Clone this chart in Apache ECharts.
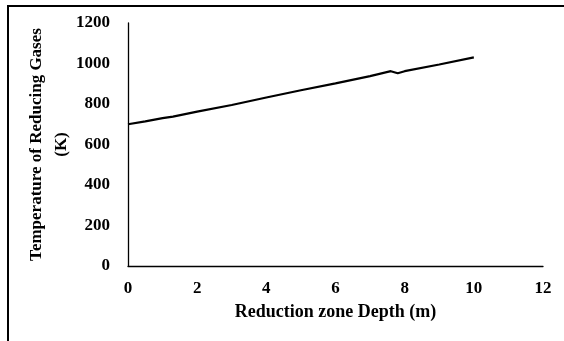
<!DOCTYPE html>
<html>
<head>
<meta charset="utf-8">
<script src="https://cdn.jsdelivr.net/npm/echarts@6/dist/echarts.min.js"></script>
<style>
  html, body { margin: 0; padding: 0; background: #fff; }
  #chart { width: 564px; height: 341px; }
</style>
</head>
<body>
<div id="chart"></div>
<script>
// depth along reduction zone (m)
var depth = [0, 0.5, 1, 1.3, 2, 3, 4, 5, 6, 7, 7.6, 7.8, 8, 9, 10];
// temperature of reducing gases (K)
var temperature = [700, 714, 730, 738, 762, 795, 832, 868, 902, 938, 962, 952, 962, 995, 1030];

var xTicks = [0, 12, 2];     // min, max, interval
var yTicks = [0, 1200, 200];

var font = '"Liberation Serif", "Times New Roman", serif';

var points = depth.map(function (d, i) { return [d, temperature[i]]; });

var chart = echarts.init(document.getElementById('chart'));
var option = {
    animation: false,
    backgroundColor: '#fff',
    grid: { left: 128, right: 21, top: 23, bottom: 75 },
    graphic: [{
        type: 'rect',
        shape: { x: 8, y: 6, width: 620, height: 400 },
        style: { fill: 'none', stroke: '#000', lineWidth: 2 },
        silent: true
    }],
    xAxis: {
        type: 'value',
        min: xTicks[0], max: xTicks[1], interval: xTicks[2],
        name: 'Reduction zone Depth (m)',
        nameLocation: 'middle',
        nameGap: 37,
        nameMoveOverlap: false,
        nameTextStyle: { fontFamily: font, fontWeight: 'bold', fontSize: 18, color: '#000' },
        axisLine: { lineStyle: { color: '#000', width: 1.3 } },
        axisTick: { show: false },
        splitLine: { show: false },
        axisLabel: { margin: 14, fontFamily: font, fontWeight: 'bold', fontSize: 17, color: '#000',
            formatter: function (v) { return String(v); } }
    },
    yAxis: {
        type: 'value',
        min: yTicks[0], max: yTicks[1], interval: yTicks[2],
        name: 'Temperature of Reducing Gases\n(K)',
        nameLocation: 'middle',
        nameRotate: 90,
        nameGap: 54,
        nameMoveOverlap: false,
        nameTextStyle: { fontFamily: font, fontWeight: 'bold', fontSize: 17, lineHeight: 25, color: '#000' },
        axisLine: { show: true, lineStyle: { color: '#000', width: 1.3 } },
        axisTick: { show: false },
        splitLine: { show: false },
        axisLabel: { margin: 18, fontFamily: font, fontWeight: 'bold', fontSize: 17, color: '#000',
            formatter: function (v) { return String(v); } }
    },
    series: [{
        type: 'line',
        data: points,
        showSymbol: false,
        lineStyle: { color: '#000', width: 2.2 }
    }]
};
chart.setOption(option);
</script>
</body>
</html>
